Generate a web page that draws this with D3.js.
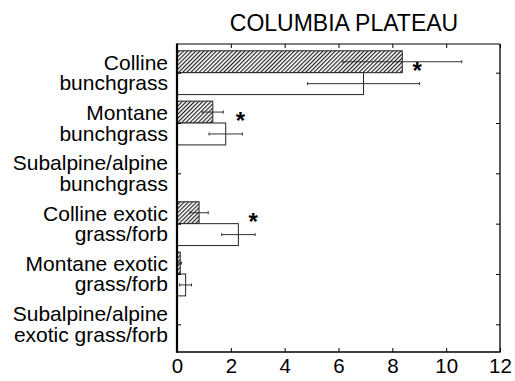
<!DOCTYPE html>
<html><head><meta charset="utf-8">
<script src="https://cdn.jsdelivr.net/npm/d3@7"></script>
<style>body{margin:0;background:#fff}svg{display:block}text{font-family:"Liberation Sans",Arial,sans-serif;fill:#000}</style>
</head><body><svg id="c" width="515" height="381"></svg>
<script>
const title = "COLUMBIA PLATEAU";
const categories = [
  ["Colline", "bunchgrass"],
  ["Montane", "bunchgrass"],
  ["Subalpine/alpine", "bunchgrass"],
  ["Colline exotic", "grass/forb"],
  ["Montane exotic", "grass/forb"],
  ["Subalpine/alpine", "exotic grass/forb"]
];
const hatchedValues = [8.37, 1.33, 0, 0.82, 0.12, 0];
const hatchedErrors = [2.21, 0.39, 0, 0.34, 0.05, 0];
const openValues = [6.93, 1.81, 0, 2.28, 0.32, 0];
const openErrors = [2.08, 0.62, 0, 0.62, 0.22, 0];
const significant = [true, true, false, true, false, false];
const xTicks = [0, 2, 4, 6, 8, 10, 12];

(function () {
const svg = d3.select("#c");
const L = 177, R = 500, T = 44, B = 352;
const x = d3.scaleLinear().domain([0, 12]).range([L, R]);
const y = d3.scaleLinear().domain([-0.57, 5.55]).range([T, B]);
const bh = y(0.435) - y(0);

const defs = svg.append("defs");
const pw = 2.9;
const pat = defs.append("pattern").attr("id", "hatch").attr("patternUnits", "userSpaceOnUse")
  .attr("width", pw).attr("height", pw).attr("patternTransform", "rotate(45)");
pat.append("rect").attr("width", pw).attr("height", pw).attr("fill", "#fff");
pat.append("line").attr("x1", 0.6).attr("y1", 0).attr("x2", 0.6).attr("y2", pw)
  .attr("stroke", "#111").attr("stroke-width", 1.1);

svg.append("text").attr("x", 344).attr("y", 31).attr("text-anchor", "middle")
  .style("font-size", "23px").text(title);

const idx = d3.range(categories.length);
const g = svg.append("g");
g.selectAll("rect.h").data(idx.filter(i => hatchedValues[i] > 0)).join("rect")
  .attr("x", x(0)).attr("y", i => y(i) - bh).attr("width", i => x(hatchedValues[i]) - x(0))
  .attr("height", bh).attr("fill", "url(#hatch)").attr("stroke", "#222").attr("stroke-width", 1);
g.selectAll("rect.o").data(idx.filter(i => openValues[i] > 0)).join("rect")
  .attr("x", x(0)).attr("y", i => y(i)).attr("width", i => x(openValues[i]) - x(0))
  .attr("height", bh).attr("fill", "#fff").attr("stroke", "#222").attr("stroke-width", 1);

function errBars(vals, errs, dy) {
  idx.filter(i => vals[i] > 0).forEach(i => {
    const cy = y(i) + dy;
    const x1 = x(Math.max(0, vals[i] - errs[i])), x2 = x(vals[i] + errs[i]);
    g.append("line").attr("x1", x1).attr("x2", x2).attr("y1", cy).attr("y2", cy)
      .attr("stroke", "#333").attr("stroke-width", 1);
    [x1, x2].forEach(xx => g.append("line").attr("x1", xx).attr("x2", xx)
      .attr("y1", cy - 1.5).attr("y2", cy + 1.5).attr("stroke", "#333").attr("stroke-width", 1));
  });
}
errBars(hatchedValues, hatchedErrors, -bh / 2);
errBars(openValues, openErrors, bh / 2);

g.selectAll("text.ast").data(idx.filter(i => significant[i])).join("text")
  .attr("x", i => x(Math.max(hatchedValues[i], openValues[i]) + 0.55))
  .attr("y", i => y(i) + 6).attr("text-anchor", "middle")
  .style("font-size", "24px").style("font-weight", "bold").text("*");

const ax = svg.append("g");
const axB = ax.append("g").attr("transform", `translate(0,${B})`)
  .call(d3.axisBottom(x).tickValues(xTicks).tickSize(-4).tickPadding(6).tickFormat(d3.format("d")));
axB.selectAll("text").style("font-size", "20.5px").style("font-family", "Liberation Sans, Arial, sans-serif");
const axT = ax.append("g").attr("transform", `translate(0,${T})`)
  .call(d3.axisTop(x).tickValues(xTicks).tickSize(-4).tickFormat(""));
const axL = ax.append("g").attr("transform", `translate(${L},0)`)
  .call(d3.axisLeft(y).tickValues(idx).tickSize(-4).tickFormat(""));
const axR = ax.append("g").attr("transform", `translate(${R},0)`)
  .call(d3.axisRight(y).tickValues(idx).tickSize(-4).tickFormat(""));
[axB, axT, axL, axR].forEach(a => {
  a.select(".domain").remove();
  a.selectAll(".tick line").attr("stroke", "#000").attr("stroke-width", 1);
});
ax.append("line").attr("x1", L).attr("x2", R).attr("y1", T).attr("y2", T).attr("stroke", "#000").attr("stroke-width", 1);
ax.append("line").attr("x1", R).attr("x2", R).attr("y1", T).attr("y2", B).attr("stroke", "#000").attr("stroke-width", 1.3);
ax.append("line").attr("x1", L).attr("x2", R + 0.6).attr("y1", B).attr("y2", B).attr("stroke", "#000").attr("stroke-width", 1.6);
ax.append("line").attr("x1", L).attr("x2", L).attr("y1", T - 0.5).attr("y2", B + 0.8).attr("stroke", "#000").attr("stroke-width", 2.2);

const lab = svg.append("g");
idx.forEach(i => {
  const t = lab.append("text").attr("text-anchor", "end").style("font-size", "21px");
  categories[i].forEach((line, k) => {
    t.append("tspan").attr("x", 168).attr("y", y(i) - 3 + k * 20.5).text(line);
  });
});
})();
</script></body></html>
